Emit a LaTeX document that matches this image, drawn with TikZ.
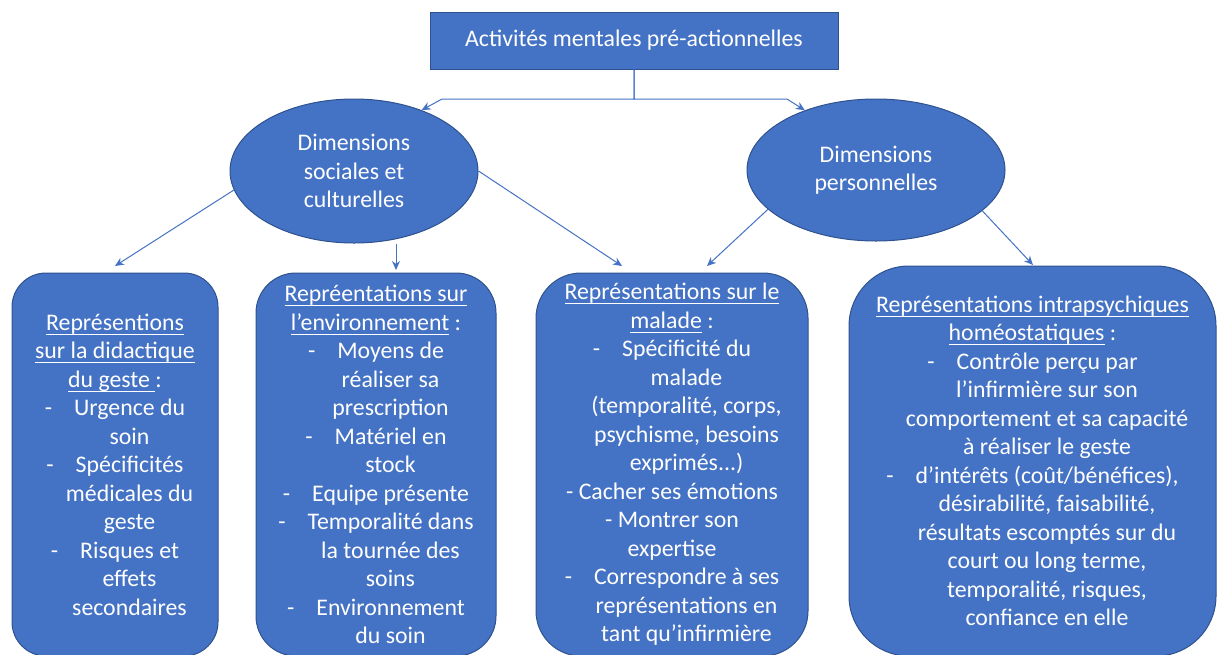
\documentclass[tikz,border=0pt]{standalone}
\usepackage{fontspec}
\setmainfont{Carlito}
\usetikzlibrary{shapes.geometric,arrows.meta}
\definecolor{officeblue}{HTML}{4472C4}
\definecolor{officeedge}{HTML}{2F528F}
\newsavebox\soulbox
\newcommand{\souligne}[1]{\sbox\soulbox{#1}\rlap{\rule[-4.5pt]{\wd\soulbox}{1pt}}\usebox\soulbox}
\newcommand{\tiret}{-\hspace{22pt}}
\newcommand{\ind}{\hspace*{29pt}}
\begin{document}
\begin{tikzpicture}[x=1pt,y=-1pt,
    txt/.style={text=white,font=\fontsize{23.8}{28.5}\selectfont,align=center,inner sep=0pt},
    titlebox/.style={txt,rectangle,draw=officeedge,fill=officeblue,line width=1pt},
    dimbox/.style={txt,ellipse,draw=officeedge,fill=officeblue,line width=1pt},
    repbox/.style={txt,rectangle,draw=officeedge,fill=officeblue,line width=1pt},
    arr/.style={officeblue,line width=1pt,-{Stealth[length=9pt,width=8pt]}}]
    \useasboundingbox (0,0) rectangle (1217,654);
    % top
    \node[titlebox,minimum width=408pt,minimum height=57pt] (activ) at (634,40.5) {Activités mentales pré-actionnelles};
    \node[dimbox,minimum width=248pt,minimum height=144pt] (dsoc) at (354,171) {Dimensions\\sociales et\\culturelles};
    \node[dimbox,minimum width=258pt,minimum height=142pt] (dpers) at (876,170) {Dimensions\\personnelles};
    % representations
    \node[repbox,minimum width=206pt,minimum height=383pt,rounded corners=34pt] (didact) at (115,464.5)
      {\souligne{Représentions}\\ \souligne{sur la didactique}\\ \souligne{du geste\ }:\\
       \tiret Urgence du\\ \ind soin\\ \tiret Spécificités\\ \ind médicales du\\ \ind geste\\
       \tiret Risques et\\ \ind effets\\ \ind secondaires};
    \node[repbox,minimum width=240pt,minimum height=383pt,rounded corners=40pt] (envir) at (376,464.5)
      {\souligne{Repréentations sur}\\ \souligne{l’environnement} :\\
       \tiret Moyens de\\ \ind réaliser sa\\ \ind prescription\\ \tiret Matériel en\\ \ind stock\\
       \tiret Equipe présente\\ \tiret Temporalité dans\\ \ind la tournée des\\ \ind soins\\
       \tiret Environnement\\ \ind du soin};
    \node[repbox,minimum width=272pt,minimum height=383pt,rounded corners=45pt] (malade) at (672,464.5)
      {\souligne{Représentations sur le}\\ \souligne{malade} :\\
       \tiret Spécificité du\\ \ind malade\\ \ind (temporalité, corps,\\ \ind psychisme, besoins\\ \ind exprimés...)\\
       - Cacher ses émotions\\ - Montrer son\\ expertise\\
       \tiret Correspondre à ses\\ \ind représentations en\\ \ind tant qu’infirmière};
    \node[repbox,minimum width=367pt,minimum height=390pt,rounded corners=60pt] (intra) at (1032.5,461)
      {\souligne{Représentations intrapsychiques}\\ \souligne{homéostatiques} :\\
       \tiret Contrôle perçu par\\ \ind l’infirmière sur son\\ \ind comportement et sa capacité\\ \ind à réaliser le geste\\
       \tiret d’intérêts (coût/bénéfices),\\ \ind désirabilité, faisabilité,\\ \ind résultats escomptés sur du\\
       \ind court ou long terme,\\ \ind temporalité, risques,\\ \ind confiance en elle};
    % arrows
    \coordinate (hl) at (442,99);
    \coordinate (hr) at (787,99);
    \coordinate (t1) at (115,266);
    \coordinate (t2) at (396,270);
    \coordinate (t3) at (622,266);
    \coordinate (t4) at (707,266);
    \coordinate (t5) at (1033,265);
    \draw[arr] (activ.south) |- (hl) -- (dsoc.42);
    \draw[arr] (activ.south) |- (hr) -- (dpers.140);
    \draw[arr] (dsoc.189) -- (t1);
    \draw[arr] (t2 |- dsoc.south) -- (t2);
    \draw[arr] (dsoc.0) -- (t3);
    \draw[arr] (dpers.200) -- (t4);
    \draw[arr] (dpers.339) -- (t5);
\end{tikzpicture}
\end{document}
